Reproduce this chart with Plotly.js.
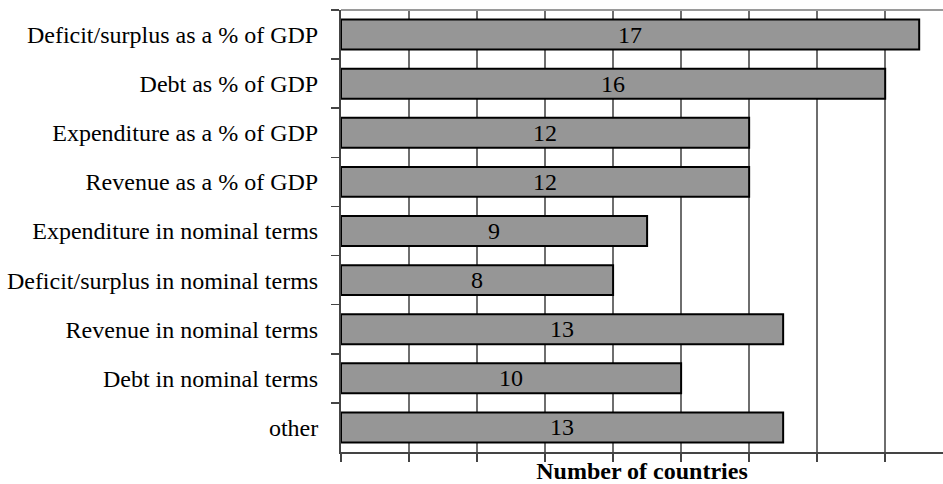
<!DOCTYPE html>
<html>
<head>
<meta charset="utf-8">
<script src="https://cdn.plot.ly/plotly-3.0.1.min.js"></script>
<style>html,body{margin:0;padding:0;background:#fff;}#chart{width:943px;height:484px;}</style>
</head>
<body>
<div id="chart"></div>
<script>
const categories = [
  "Deficit/surplus as a % of GDP",
  "Debt as % of GDP",
  "Expenditure as a % of GDP",
  "Revenue as a % of GDP",
  "Expenditure in nominal terms",
  "Deficit/surplus in nominal terms",
  "Revenue in nominal terms",
  "Debt in nominal terms",
  "other"
];
const counts = [17, 16, 12, 12, 9, 8, 13, 10, 13];
const xTickValues = [0, 2, 4, 6, 8, 10, 12, 14, 16];
const xTitle = "Number of countries";

const font = "'Liberation Serif', 'Times New Roman', serif";

const trace = {
  type: "bar",
  orientation: "h",
  y: categories,
  x: counts,
  text: counts.map(String),
  textposition: "inside",
  insidetextanchor: "middle",
  constraintext: "none",
  textangle: 0,
  insidetextfont: {family: font, size: 24, color: "#000"},
  marker: {color: "#969696", line: {color: "#000", width: 2}},
  hoverinfo: "none"
};

const layout = {
  width: 943,
  height: 484,
  margin: {l: 341, r: 0, t: 10, b: 32, pad: 0},
  paper_bgcolor: "#fff",
  plot_bgcolor: "#fff",
  showlegend: false,
  bargap: 0.39,
  font: {family: font, size: 24, color: "#000"},
  xaxis: {
    range: [0, 17.7],
    tickvals: xTickValues,
    showticklabels: false,
    ticks: "outside",
    ticklen: 8,
    tickwidth: 1.5,
    tickcolor: "#444",
    showgrid: true,
    gridcolor: "#6e6e6e",
    gridwidth: 1.5,
    zeroline: false,
    showline: true,
    linecolor: "#444",
    linewidth: 2,
    fixedrange: true,
    automargin: false,
    title: {text: "<b>" + xTitle + "</b>", font: {family: font, size: 24, color: "#000"}, standoff: 3}
  },
  yaxis: {
    type: "category",
    autorange: "reversed",
    tickson: "boundaries",
    ticks: "outside",
    ticklen: 8,
    tickwidth: 1.5,
    tickcolor: "#444",
    showgrid: false,
    zeroline: false,
    showline: true,
    linecolor: "#444",
    linewidth: 2,
    ticklabelstandoff: 16,
    tickfont: {family: font, size: 24, color: "#000"},
    fixedrange: true,
    automargin: false
  },
  shapes: [{
    type: "line", xref: "paper", yref: "paper",
    x0: 0, x1: 1, y0: 1, y1: 1,
    line: {color: "#9a9a9a", width: 2}
  }]
};

Plotly.newPlot("chart", [trace], layout, {displayModeBar: false, staticPlot: true});
</script>
</body>
</html>
